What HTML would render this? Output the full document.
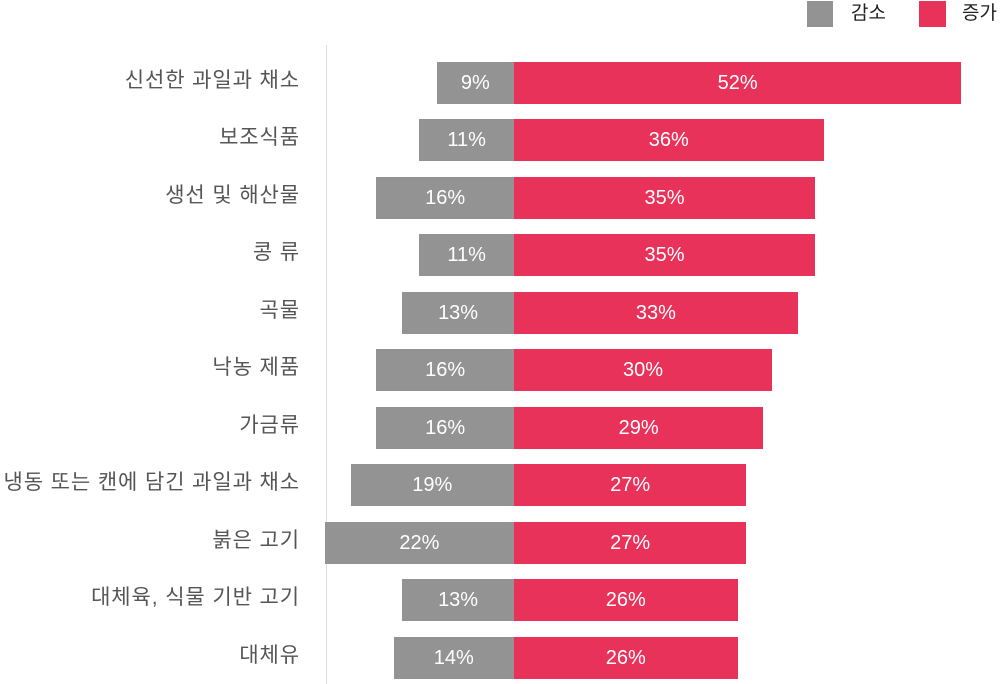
<!DOCTYPE html>
<html><head><meta charset="utf-8"><style>
body{margin:0;width:1000px;height:684px;background:#fff;position:relative;overflow:hidden;font-family:"Liberation Sans","Noto Sans CJK KR",sans-serif;}
.a{position:absolute}
.lab{position:absolute;right:700px;font-size:21px;letter-spacing:0.9px;color:#555;white-space:nowrap;line-height:42px;}
.g{position:absolute;background:#939393;color:#fff;font-size:20px;text-align:center;line-height:42px;height:42px}
.r{position:absolute;background:#e8325a;color:#fff;font-size:20px;text-align:center;line-height:42px;height:42px;left:514px}
</style></head><body>
<div class="a" style="left:326px;top:45px;width:1px;height:639px;background:#ddd"></div>
<div class="a" style="left:807px;top:1px;width:26px;height:26px;background:#939393"></div>
<div class="a" style="left:851px;top:2px;font-size:19px;color:#222;line-height:24px">감소</div>
<div class="a" style="left:919px;top:1px;width:27px;height:26px;background:#e8325a"></div>
<div class="a" style="left:962px;top:2px;font-size:19px;color:#222;line-height:24px">증가</div>
<div id="c"></div>
<script>
var d=[["신선한 과일과 채소",9,52],["보조식품",11,36],["생선 및 해산물",16,35],["콩 류",11,35],["곡물",13,33],["낙농 제품",16,30],["가금류",16,29],["냉동 또는 캔에 담긴 과일과 채소",19,27],["붉은 고기",22,27],["대체육, 식물 기반 고기",13,26],["대체유",14,26]];
var h="",k=8.6;
d.forEach(function(e,i){var t=62+i*57.45;
h+='<div class="lab" style="top:'+(t-2)+'px">'+e[0]+'</div>';
var w=e[1]*k;h+='<div class="g" style="top:'+t+'px;left:'+(514-w)+'px;width:'+w+'px">'+e[1]+'%</div>';
h+='<div class="r" style="top:'+t+'px;width:'+(e[2]*k)+'px">'+e[2]+'%</div>';});
document.getElementById("c").innerHTML=h;
</script>
</body></html>
